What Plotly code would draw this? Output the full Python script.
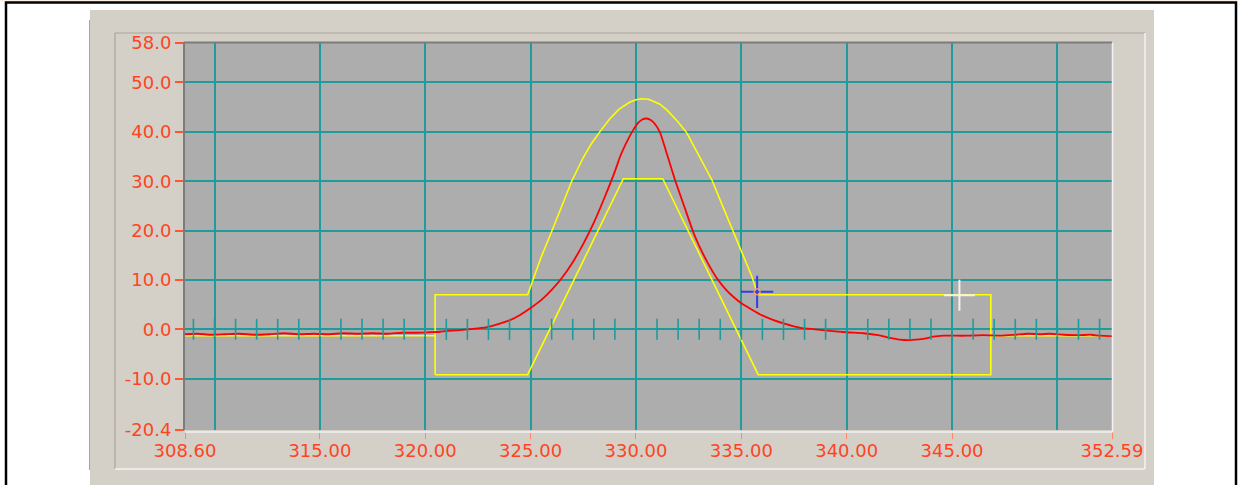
"""Scope-style trace with a yellow tolerance mask, drawn on a grey instrument panel."""
import plotly.graph_objects as go

W, H = 1238, 485
# plot area in page pixels
PL, PR, PT, PB = 185, 1112, 43, 430

PANEL = "#d4d0c8"
PLOT_BG = "#adadad"
GRID = "#1f9b9b"
LABEL = "#ff4422"
TICK_X = "#ff8866"
RED = "#ff0000"
YELLOW = "#ffff00"

X_RANGE = [308.60, 352.59]
Y_RANGE = [-20.4, 58.0]

X_GRID = [310, 315, 320, 325, 330, 335, 340, 345, 350]
X_LABEL_VALS = [308.60, 315, 320, 325, 330, 335, 340, 345, 352.59]
X_LABEL_TEXT = ["308.60", "315.00", "320.00", "325.00", "330.00", "335.00",
                "340.00", "345.00", "352.59"]
Y_TICK_VALS = [58.0, 50, 40, 30, 20, 10, 0, -10, -20.4]
Y_TICK_TEXT = ["58.0", "50.0", "40.0", "30.0", "20.0", "10.0", "0.0", "-10.0", "-20.4"]

# small ticks along the 0.0 line
ZERO_TICKS = list(range(309, 353))

# measured signal (red)
RED_X = [308.6, 309.2, 309.8, 310.5, 311.2, 311.9, 312.6, 313.3, 314.0, 314.7,
         315.4, 316.1, 316.8, 317.5, 318.2, 318.9, 319.6, 320.2, 320.7, 321.0,
         321.5, 322.0, 322.5, 323.0, 323.5, 324.0, 324.5, 325.0, 325.5, 326.0,
         326.5, 327.0, 327.5, 328.0, 328.5, 329.0, 329.25, 329.5, 329.86, 330.1,
         330.3, 330.5, 330.7, 330.9, 331.14, 331.5, 331.85, 332.3, 332.71, 333.0,
         333.4, 333.83, 334.3, 334.7, 335.0, 335.3, 335.9, 336.5, 337.0, 337.8,
         338.5, 339.2, 340.0, 340.8, 341.5, 342.0, 342.5, 343.0, 343.3, 343.7,
         344.1, 344.6, 345.2, 345.7, 346.5, 347.3, 348.0, 348.6, 349.2, 349.65,
         350.3, 351.0, 351.6, 352.0, 352.59]
RED_Y = [-1.0, -0.9, -1.1, -1.0, -0.9, -1.1, -1.0, -0.8, -1.0, -0.9,
         -1.0, -0.8, -0.9, -0.8, -0.9, -0.7, -0.7, -0.6, -0.5, -0.3,
         -0.2, 0.0, 0.2, 0.5, 1.1, 1.8, 2.9, 4.3, 5.9, 8.0,
         10.5, 13.6, 17.3, 21.6, 26.6, 32.0, 35.0, 37.4, 40.3, 41.8,
         42.5, 42.7, 42.4, 41.6, 39.9, 35.1, 30.3, 24.8, 19.8, 16.9,
         13.5, 10.4, 7.9, 6.3, 5.3, 4.5, 3.0, 1.9, 1.2, 0.3,
         0.0, -0.3, -0.6, -0.8, -1.2, -1.7, -2.1, -2.2, -2.1, -1.9,
         -1.5, -1.3, -1.3, -1.3, -1.2, -1.3, -1.1, -0.9, -1.0, -0.9,
         -1.1, -1.2, -1.1, -1.3, -1.4]

# tolerance mask (yellow); None splits the separate pieces
YELLOW_X = [308.6, 320.47, None,
            320.47, 320.47, 324.86, 325.06, 325.5, 326.0, 326.5, 326.95, 327.5,
            327.9, 328.3, 328.75, 329.2, 329.7, 330.0, 330.28, 330.6, 331.14, 331.5,
            332.0, 332.41, 333.0, 333.6, 334.1, 334.62, 335.1, 335.5, 335.73, 335.78,
            346.84, 346.84, 335.8, 331.27, 329.4, 324.86, 320.47, None,
            346.84, 352.59]
YELLOW_Y = [-1.3, -1.3, None,
            -9.2, 7.0, 7.0, 9.4, 14.6, 19.8, 25.0, 30.0, 34.8,
            37.7, 40.1, 42.6, 44.6, 46.0, 46.5, 46.7, 46.6, 45.6, 44.3,
            42.0, 39.8, 35.2, 30.3, 25.1, 19.8, 14.9, 10.7, 7.7, 7.0,
            7.0, -9.2, -9.2, 30.5, 30.5, -9.2, -9.2, None,
            -1.3, -1.3]

CURSOR_BLUE = (335.75, 7.6)
CURSOR_WHITE = (345.35, 6.9)


def px(x):
    return (x - PL) / (PR - PL)


def py(y):
    return (PB - y) / (PB - PT)


def rect(x0, y0, x1, y1, fill, layer="below", edge=None, width=0):
    return dict(type="rect", xref="paper", yref="paper", x0=px(x0), x1=px(x1),
                y0=py(y1), y1=py(y0), fillcolor=fill,
                line=dict(width=width, color=edge), layer=layer)


def line(x0, y0, x1, y1, color, width, layer="below"):
    return dict(type="line", xref="paper", yref="paper", x0=px(x0), x1=px(x1),
                y0=py(y0), y1=py(y1), line=dict(color=color, width=width), layer=layer)


fig = go.Figure()

fig.add_trace(go.Scatter(x=YELLOW_X, y=YELLOW_Y, mode="lines", connectgaps=False,
                         line=dict(color=YELLOW, width=1.6), hoverinfo="skip"))
fig.add_trace(go.Scatter(x=RED_X, y=RED_Y, mode="lines",
                         line=dict(color=RED, width=1.8, shape="spline", smoothing=0.6),
                         hoverinfo="skip"))
fig.add_trace(go.Scatter(x=ZERO_TICKS, y=[0] * len(ZERO_TICKS), mode="markers", xaxis="x2",
                         marker=dict(symbol="line-ns", size=15,
                                     line=dict(color=GRID, width=1.6)),
                         hoverinfo="skip"))
fig.add_trace(go.Scatter(x=[CURSOR_BLUE[0]], y=[CURSOR_BLUE[1]], mode="markers",
                         marker=dict(symbol="cross-thin", size=23,
                                     line=dict(color="#3a3ae8", width=2)),
                         hoverinfo="skip"))
fig.add_trace(go.Scatter(x=[CURSOR_BLUE[0]], y=[CURSOR_BLUE[1]], mode="markers",
                         marker=dict(symbol="circle-open", size=6,
                                     line=dict(color="#3a3ae8", width=1.2)),
                         hoverinfo="skip"))
fig.add_trace(go.Scatter(x=[CURSOR_WHITE[0]], y=[CURSOR_WHITE[1]], mode="markers",
                         marker=dict(symbol="cross-thin", size=22,
                                     line=dict(color="#f2f2f2", width=2)),
                         hoverinfo="skip"))

shapes = [
    rect(-5, -5, 1245, 1.5, "#fdeee4"),
    rect(90, 10, 1154, 495, PANEL),
    line(89.5, 20, 89.5, 470, "#a9a6a0", 1),
    # etched inner frame
    line(115, 33, 1145, 33, "#a8a59c", 1.2),
    line(115, 33, 115, 469, "#a8a59c", 1.2),
    line(115, 469, 1145, 469, "#f4f3ef", 1.5),
    line(1145, 33, 1145, 469, "#f4f3ef", 1.5),
    # plot background
    rect(PL, PT, PR, PB, PLOT_BG),
    # page frame
    rect(6, 2.5, 1236, 495, "rgba(0,0,0,0)", edge="black", width=2.5),
    # sunken border around plot area
    line(PL - 1, PT - 0.5, PR, PT - 0.5, "#7c7c7c", 2, "above"),
    line(PL - 1, PT - 0.5, PL - 1, PB, "#7c7c7c", 2, "above"),
    line(PR + 0.5, PT, PR + 0.5, PB + 2, "#f2f2f2", 1.5, "above"),
    line(PL, PB + 2, PR + 0.5, PB + 2, "#f2f2f2", 1.5, "above"),
]

font = dict(family="DejaVu Sans", size=18, color=LABEL)

fig.update_layout(
    width=W, height=H,
    margin=dict(l=PL, r=W - PR, t=PT, b=H - PB, pad=0),
    paper_bgcolor="white",
    plot_bgcolor=PLOT_BG,
    showlegend=False,
    shapes=shapes,
    xaxis=dict(range=X_RANGE, tickvals=X_GRID, showticklabels=False, ticks="",
               showgrid=True, gridcolor=GRID, gridwidth=1.6, zeroline=False,
               showline=False, fixedrange=True),
    xaxis2=dict(range=X_RANGE, overlaying="x", side="bottom", anchor="y",
                tickvals=X_LABEL_VALS, ticktext=X_LABEL_TEXT, tickfont=font,
                ticks="outside", ticklen=8, tickwidth=1, tickcolor=TICK_X,
                ticklabelstandoff=-4,
                showgrid=False, zeroline=False, showline=False, fixedrange=True),
    yaxis=dict(range=Y_RANGE, tickvals=Y_TICK_VALS, ticktext=Y_TICK_TEXT, tickfont=font,
               ticks="outside", ticklen=9, tickwidth=2, tickcolor="#ff5533",
               showgrid=True, gridcolor=GRID, gridwidth=1.6, zeroline=False,
               showline=False, fixedrange=True),
)

# the browser's default 8px body margin would push the figure off its grid
fig.write_html("out.html", config={"displayModeBar": False},
               post_script="document.body.style.margin = '0';")
